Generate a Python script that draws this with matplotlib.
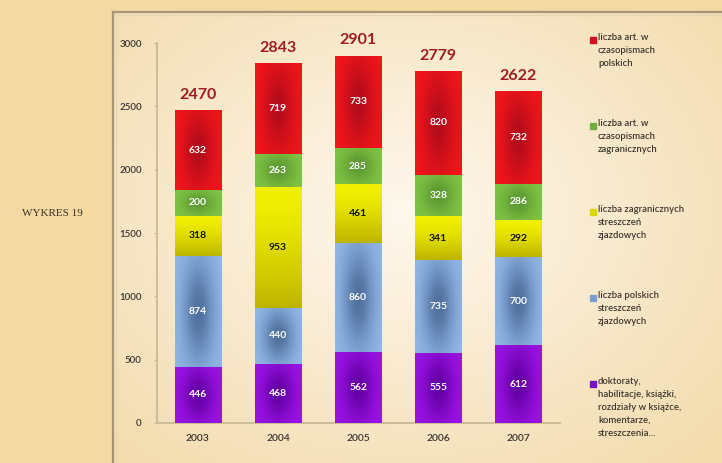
import matplotlib
matplotlib.use('Agg')
import matplotlib.pyplot as plt
import numpy as np
from matplotlib.patches import Rectangle
from matplotlib.colors import to_rgb

plt.rcParams['font.family'] = ['Lato', 'DejaVu Sans']

years = ['2003', '2004', '2005', '2006', '2007']
# stacked from the bottom up
doktoraty = [446, 468, 562, 555, 612]
pol_streszczenia = [874, 440, 860, 735, 700]
zagr_streszczenia = [318, 953, 461, 341, 292]
art_zagraniczne = [200, 263, 285, 328, 286]
art_polskie = [632, 719, 733, 820, 732]
totals = [2470, 2843, 2901, 2779, 2622]

series = [doktoraty, pol_streszczenia, zagr_streszczenia, art_zagraniczne, art_polskie]
labels = ['doktoraty,\nhabilitacje, książki,\nrozdziały w książce,\nkomentarze,\nstreszczenia...',
          'liczba polskich\nstreszczeń\nzjazdowych',
          'liczba zagranicznych\nstreszczeń\nzjazdowych',
          'liczba art. w\nczasopismach\nzagranicznych',
          'liczba art. w\nczasopismach\npolskich']
# (edge colour, centre colour, legend colour, text colour)
styles = [('#9c14e6', '#6400a4', '#7a10c8', 'white'),
          ('#92b8e6', '#50709e', '#7a9ed0', 'white'),
          ('#f2f000', '#bcb400', '#d8d800', '#141400'),
          ('#80c444', '#5c9832', '#70b03c', 'white'),
          ('#f2161a', '#b40c1c', '#d41020', 'white')]

W, H = 722, 463
fig = plt.figure(figsize=(W / 100, H / 100), dpi=100)

# background: tan page plus cream panel with a thin border
bg = fig.add_axes([0, 0, 1, 1])
bg.set_xlim(0, W)
bg.set_ylim(H, 0)
bg.axis('off')
outer = np.ones((H, W, 3)) * np.array(to_rgb('#f4d9a2'))
bg.imshow(outer, extent=(0, W, H, 0), aspect='auto', zorder=0)
px0, py0 = 114, 13
ph, pw = H - py0, W - px0
gy, gx = np.mgrid[0:ph, 0:pw]
r = np.sqrt(((gx - 290) / 420.0) ** 2 + ((gy - 200) / 330.0) ** 2)
r = np.clip(r, 0, 1)[..., None]
c_in, c_out = np.array(to_rgb('#fef8ee')), np.array(to_rgb('#f3dcae'))
panel = c_in * (1 - r) + c_out * r
bg.imshow(panel, extent=(px0, W, H, py0), aspect='auto', zorder=1)
bg.plot([113, 113], [H, 12], color='#a89576', lw=1.6, zorder=2)
bg.plot([113, W], [12, 12], color='#a89576', lw=1.6, zorder=2)
bg.plot([116, 116], [H, 15], color='#e6d6b8', lw=1.0, zorder=2)
bg.plot([116, W], [15, 15], color='#e6d6b8', lw=1.0, zorder=2)

bg.text(22, 214, 'WYKRES 19', va='center', ha='left', fontsize=8,
        family='Liberation Serif', color='#383028')

# legend, top entry first
for i, k in enumerate(range(len(series) - 1, -1, -1)):
    y = 40 + i * 86
    bg.add_patch(Rectangle((590, y - 3), 6, 6, color=styles[k][2], zorder=3))
    bg.text(598, y - 6.5, labels[k], va='top', ha='left', fontsize=6.8,
            linespacing=1.55, color='#3e352e', fontweight='semibold', zorder=3)

ax = fig.add_axes([157 / W, 40 / H, 403 / W, 380 / H])
ax.set_facecolor('none')
x = np.arange(len(years))
width = 0.575


def shade(edge, centre, vertical):
    ny, nx = 60, 40
    sy, sx = np.mgrid[0:ny, 0:nx]
    u = (sx + 0.5) / nx - 0.5
    v = (sy + 0.5) / ny - 0.5
    if vertical:
        t = np.clip((sy + 0.5) / ny, 0, 1) ** 1.5
    else:
        t = np.exp(-(u / 0.32) ** 2 - (v / 0.45) ** 2)
    t = t[..., None]
    e, c = np.array(to_rgb(edge)), np.array(to_rgb(centre))
    return e * (1 - t) + c * t


bottom = np.zeros(len(years))
for k, vals in enumerate(series):
    vals = np.array(vals)
    edge, centre, solid, tcol = styles[k]
    bars = ax.bar(x, vals, width, bottom=bottom, color=solid, edgecolor='none', zorder=2)
    img = shade(edge, centre, vertical=(k == 2))
    for rect in bars:
        x0, y0 = rect.get_x(), rect.get_y()
        im = ax.imshow(img, extent=(x0, x0 + rect.get_width(), y0, y0 + rect.get_height()),
                       origin='upper', aspect='auto', zorder=3)
        im.set_clip_path(rect)
    for xi, b, v in zip(x, bottom, vals):
        ax.text(xi, b + v / 2, str(v), ha='center', va='center', fontsize=7.5,
                fontweight='bold', color=tcol, zorder=4)
    bottom = bottom + vals

for xi, t in zip(x, totals):
    ax.text(xi, t + 65, str(t), ha='center', va='bottom', fontsize=11.5,
            fontweight='bold', color='#9e1c22', zorder=4)

ax.set_xlim(-0.51, 4.52)
ax.set_ylim(0, 3000)
ax.set_yticks(range(0, 3001, 500))
ax.set_xticks(x)
ax.set_xticklabels(years)
for s in ['top', 'right']:
    ax.spines[s].set_visible(False)
for s in ['left', 'bottom']:
    ax.spines[s].set_color('#c9b995')
    ax.spines[s].set_linewidth(1.3)
ax.tick_params(axis='y', length=2, color='#c9b995', labelsize=7, labelcolor='#3a3530', pad=9)
ax.tick_params(axis='x', length=0, labelsize=7.5, labelcolor='#3a3530', pad=8)
for lab in ax.get_xticklabels() + ax.get_yticklabels():
    lab.set_fontweight('semibold')

fig.savefig('out.png', dpi=100)
